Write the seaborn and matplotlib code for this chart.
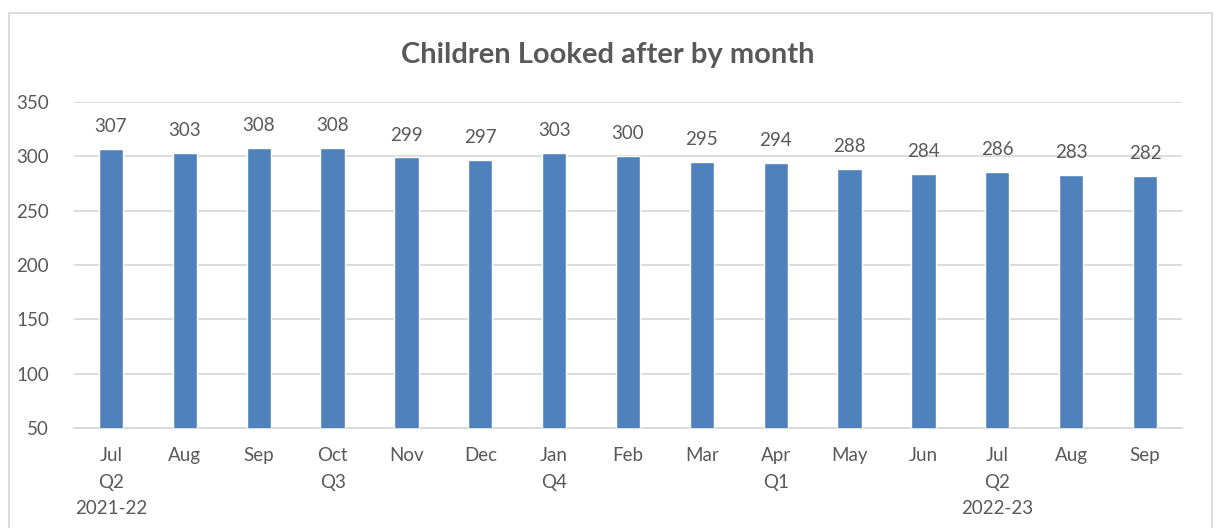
import matplotlib
matplotlib.use("Agg")
import matplotlib.pyplot as plt
import matplotlib.patches as patches
import seaborn as sns
import pandas as pd

# chart data
months = ["Jul", "Aug", "Sep", "Oct", "Nov", "Dec", "Jan", "Feb", "Mar",
          "Apr", "May", "Jun", "Jul", "Aug", "Sep"]
quarters = ["Q2", "", "", "Q3", "", "", "Q4", "", "", "Q1", "", "", "Q2", "", ""]
years = ["2021-22", "", "", "", "", "", "", "", "", "", "", "", "2022-23", "", ""]
children = [307, 303, 308, 308, 299, 297, 303, 300, 295, 294, 288, 284, 286, 283, 282]

df = pd.DataFrame({"pos": range(len(months)), "count": children})

sns.set_theme(style="white")
plt.rcParams["font.family"] = ["Lato", "DejaVu Sans"]
text_col = "#595959"
grid_col = "#D9D9D9"

fig = plt.figure(figsize=(12.16, 5.28), dpi=100)
ax = fig.add_axes([0.0609, 0.1894, 0.9111, 0.6174])

sns.barplot(data=df, x="pos", y="count", color="#4F81BD", width=0.33,
            saturation=1, ax=ax, zorder=3)

ax.set_ylim(50, 350)
ax.set_yticks(range(50, 351, 50))
ax.set_xlim(-0.5, len(months) - 0.5)
ax.yaxis.grid(True, color=grid_col, linewidth=1.3, zorder=0)
ax.set_axisbelow(True)
for s in ["top", "right", "left"]:
    ax.spines[s].set_visible(False)
ax.spines["bottom"].set_color(grid_col)
ax.spines["bottom"].set_linewidth(1.3)
ax.tick_params(length=0, labelsize=13.5, colors=text_col)
ax.tick_params(axis="y", pad=18)
ax.tick_params(axis="x", pad=14)
ax.set_xlabel("")
ax.set_ylabel("")

# multi-level category labels
labels = []
for m, q, y in zip(months, quarters, years):
    parts = [m]
    if q or y:
        parts.append(q)
    if y:
        parts.append(y)
    labels.append("\n".join(parts))
ax.set_xticks(range(len(months)))
ax.set_xticklabels(labels, linespacing=1.68, va="top")

# data labels
for i, v in enumerate(children):
    ax.annotate(str(v), (i, v), xytext=(0, 10), textcoords="offset points",
                ha="center", va="bottom", fontsize=13.5, color=text_col)

fig.suptitle("Children Looked after by month", y=0.921, fontsize=21,
             fontweight="bold", color=text_col)

# chart border
fig.patches.append(patches.Rectangle((9 / 1216, -0.01), 1203 / 1216, 1 - 13 / 528 + 0.01,
                                     transform=fig.transFigure, fill=False,
                                     edgecolor=grid_col, linewidth=1.3))

fig.savefig("out.png", dpi=100)
